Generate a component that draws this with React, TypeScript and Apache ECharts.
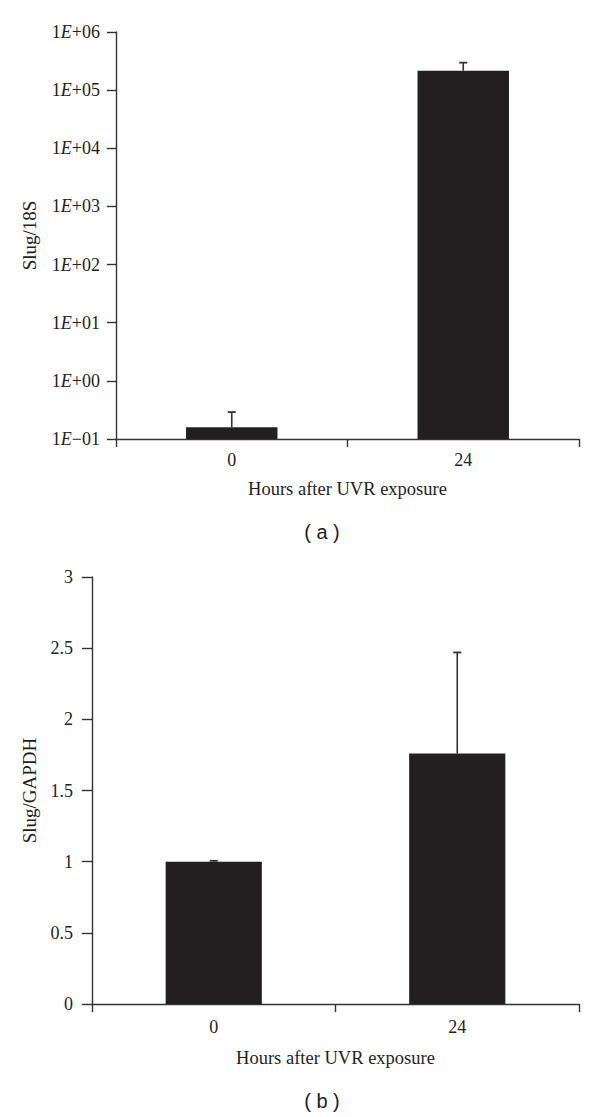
import React, { useEffect, useRef } from "react";
import * as echarts from "echarts";

// ---- Data ----
const categories = ["0", "24"];

// Panel (a): Slug/18S (log scale)
const slug18S = [0.16, 216000];
const slug18SErrTop = [0.29, 297000];
const logTickLabels = ["1E−01", "1E+00", "1E+01", "1E+02", "1E+03", "1E+04", "1E+05", "1E+06"];

// Panel (b): Slug/GAPDH
const slugGAPDH = [1.0, 1.76];
const slugGAPDHErrTop = [1.006, 2.47];

const xAxisTitle = "Hours after UVR exposure";
const yTitleA = "Slug/18S";
const yTitleB = "Slug/GAPDH";
const panelLabels = ["( a )", "( b )"];

const INK = "#231f20";
const AXIS = "#333333";
const SERIF = "'Liberation Serif', 'Times New Roman', serif";
const SANS = "'Liberation Sans', Arial, sans-serif";

function logLabel(v: number): string {
  const exp = Math.round(Math.log10(v));
  const lab = logTickLabels[exp + 1];
  if (!lab) return "";
  const idx = lab.indexOf("E");
  return `{n|${lab.slice(0, idx)}}{e|E}{n|${lab.slice(idx + 1)}}`;
}

function barRender(params: any, api: any) {
  const cat = api.value(0);
  const v = api.value(1);
  const top = api.coord([cat, v]);
  const base = api.coord([cat, 0.1]);
  const band = api.size([1, 1])[0];
  const w = band * 0.395;
  return {
    type: "rect",
    shape: { x: top[0] - w / 2, y: top[1], width: w, height: base[1] - top[1] },
    style: { fill: INK },
  };
}

function errRender(params: any, api: any) {
  const cat = api.value(0);
  const lo = api.coord([cat, api.value(1)]);
  const hi = api.coord([cat, api.value(2)]);
  const cap = 4;
  return {
    type: "group",
    children: [
      {
        type: "line",
        shape: { x1: lo[0], y1: lo[1], x2: hi[0], y2: hi[1] },
        style: { stroke: AXIS, lineWidth: 1.6 },
      },
      {
        type: "line",
        shape: { x1: hi[0] - cap, y1: hi[1], x2: hi[0] + cap, y2: hi[1] },
        style: { stroke: AXIS, lineWidth: 1.8 },
      },
    ],
  };
}

export default function App() {
  const ref = useRef<HTMLDivElement>(null);

  useEffect(() => {
    if (!ref.current) return;
    const chart = echarts.init(ref.current, null, { renderer: "svg" });

    const xAxisCommon = {
      type: "category" as const,
      data: categories,
      boundaryGap: true,
      axisLine: { lineStyle: { color: AXIS, width: 1.4 } },
      axisTick: { show: true, length: 8, inside: false, lineStyle: { color: AXIS, width: 1.4 } },
      axisLabel: { color: INK, fontFamily: SERIF, fontSize: 18 },
      nameLocation: "middle" as const,
      name: xAxisTitle,
      nameTextStyle: { color: INK, fontFamily: SERIF, fontSize: 18.5 },
    };

    const option: any = {
      animation: false,
      backgroundColor: "#ffffff",
      grid: [
        { left: 116, right: 21, top: 32, height: 407 },
        { left: 92, right: 21, top: 577, height: 427 },
      ],
      xAxis: [
        {
          ...xAxisCommon,
          gridIndex: 0,
          axisLabel: { ...xAxisCommon.axisLabel, margin: 12 },
          nameGap: 40,
        },
        {
          ...xAxisCommon,
          gridIndex: 1,
          axisLabel: { ...xAxisCommon.axisLabel, margin: 14 },
          nameGap: 44,
        },
      ],
      yAxis: [
        {
          type: "log",
          gridIndex: 0,
          logBase: 10,
          min: 0.1,
          max: 1000000,
          splitNumber: 7,
          axisLine: { show: true, lineStyle: { color: AXIS, width: 1.4 } },
          axisTick: { show: true, length: 9, lineStyle: { color: AXIS, width: 1.4 } },
          splitLine: { show: false },
          axisLabel: {
            margin: 16,
            formatter: logLabel,
            rich: {
              n: { color: INK, fontFamily: SERIF, fontSize: 18 },
              e: { color: INK, fontFamily: SERIF, fontSize: 18, fontStyle: "italic" },
            },
          },
          name: yTitleA,
          nameLocation: "middle",
          nameRotate: 90,
          nameGap: 77,
          nameTextStyle: { color: INK, fontFamily: SERIF, fontSize: 19 },
        },
        {
          type: "value",
          gridIndex: 1,
          min: 0,
          max: 3,
          interval: 0.5,
          axisLine: { show: true, lineStyle: { color: AXIS, width: 1.4 } },
          axisTick: { show: true, length: 10, lineStyle: { color: AXIS, width: 1.4 } },
          splitLine: { show: false },
          axisLabel: { margin: 19, color: INK, fontFamily: SERIF, fontSize: 18 },
          name: yTitleB,
          nameLocation: "middle",
          nameRotate: 90,
          nameGap: 53,
          nameTextStyle: { color: INK, fontFamily: SERIF, fontSize: 19 },
        },
      ],
      series: [
        {
          type: "custom",
          xAxisIndex: 0,
          yAxisIndex: 0,
          renderItem: barRender,
          encode: { x: 0, y: 1 },
          data: slug18S.map((v, i) => [i, v]),
          z: 2,
        },
        {
          type: "custom",
          xAxisIndex: 0,
          yAxisIndex: 0,
          renderItem: errRender,
          encode: { x: 0, y: [1, 2] },
          data: slug18S.map((v, i) => [i, v, slug18SErrTop[i]]),
          z: 3,
        },
        {
          type: "bar",
          xAxisIndex: 1,
          yAxisIndex: 1,
          barWidth: "39.5%",
          itemStyle: { color: INK },
          data: slugGAPDH,
          z: 2,
        },
        {
          type: "custom",
          xAxisIndex: 1,
          yAxisIndex: 1,
          renderItem: errRender,
          encode: { x: 0, y: [1, 2] },
          data: slugGAPDH.map((v, i) => [i, v, slugGAPDHErrTop[i]]),
          z: 3,
        },
      ],
      graphic: [
        {
          type: "text",
          x: 322,
          y: 532,
          style: {
            text: panelLabels[0],
            fill: INK,
            font: `20px ${SANS}`,
            textAlign: "center",
            textVerticalAlign: "middle",
          },
        },
        {
          type: "text",
          x: 322,
          y: 1101,
          style: {
            text: panelLabels[1],
            fill: INK,
            font: `20px ${SANS}`,
            textAlign: "center",
            textVerticalAlign: "middle",
          },
        },
      ],
    };

    chart.setOption(option);
    return () => chart.dispose();
  }, []);

  return (
    <div
      ref={ref}
      style={{ position: "absolute", left: 0, top: 0, width: 600, height: 1117, background: "#fff" }}
    />
  );
}
